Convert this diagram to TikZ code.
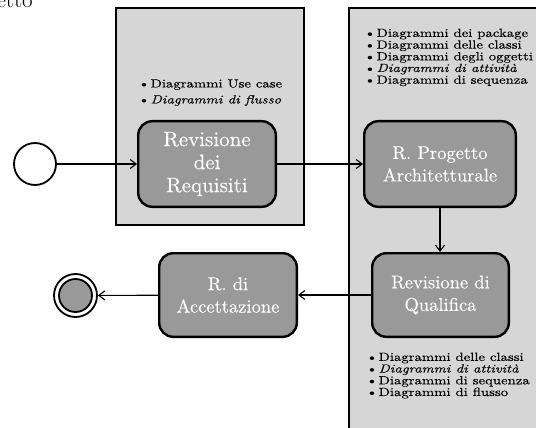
\documentclass[tikz,border=0pt]{standalone}
\usepackage{fontspec}
\newfontfamily\bulfont{lmroman10-regular.otf}[FakeStretch=1.25, FakeBold=0.15, ItalicFont=lmroman10-italic.otf]
\newfontfamily\actfont{lmroman10-regular.otf}[FakeBold=0.08]
\usetikzlibrary{arrows.meta}
\definecolor{panelgray}{RGB}{214,214,214}
\definecolor{nodegray}{RGB}{153,153,153}
\newcommand{\itm}{\textbullet\kern1pt}
\begin{document}
\begin{tikzpicture}[x=1pt,y=-1pt,
  panel/.style={draw=black, line width=2pt, fill=panelgray, inner sep=0pt},
  act/.style={draw=black, line width=2.4pt, rounded corners=14pt, fill=nodegray, text=white, align=center, inner sep=0pt, font=\actfont\fontsize{18.5}{22.5}\selectfont},
  bul/.style={anchor=north west, inner sep=0pt, align=left, text=black},
  flow/.style={line width=1.1pt, -{Straight Barb[length=6pt,width=9pt]}},
  startnode/.style={circle, draw=black, line width=1.8pt, fill=white, inner sep=0pt}
]
\useasboundingbox (0,0) rectangle (536,428);
\clip (0,0) rectangle (536,428);
\fill[white] (0,0) rectangle (536,428);
% clipped title fragment
\node[anchor=base east, inner sep=0pt, font=\fontsize{23}{23}\selectfont] (etto) at (33,7.5) {etto};
% swimlane panels
\node[panel, minimum width=188pt, minimum height=217pt] (pl) at (210,116.5) {};
\node[panel, minimum width=220pt, minimum height=460pt] (pr) at (459,238) {};
% activities
\node[act, minimum width=137.6pt, minimum height=85.6pt, font=\actfont\fontsize{21}{23}\selectfont] (req) at (207,164) {Revisione\\dei\\Requisiti};
\node[act, minimum width=151.6pt, minimum height=85.6pt] (proj) at (440,164) {R. Progetto\\Architetturale};
\node[act, minimum width=136.6pt, minimum height=83.6pt] (qual) at (440.5,295) {Revisione di\\Qualifica};
\node[act, minimum width=137.6pt, minimum height=83.6pt] (acc) at (228,295) {R. di\\Accettazione};
% start and final
\node[startnode, minimum size=42pt] (start) at (35,164) {};
\node[startnode, minimum size=43pt] (fin) at (75.5,295.5) {};
\node[startnode, fill=nodegray, minimum size=33pt] (fincore) at (fin) {};
% lists
\node[bul, font=\bulfont\fontsize{11.8}{16}\selectfont] (listreq) at (138,79.2)
  {\itm Diagrammi Use case\\ \itm\textit{Diagrammi di flusso}};
\node[bul, font=\bulfont\fontsize{11.8}{11.7}\selectfont] (listproj) at (364,28.5)
  {\itm Diagrammi dei package\\ \itm Diagrammi delle classi\\ \itm Diagrammi degli oggetti\\ \itm\textit{Diagrammi di attività}\\ \itm Diagrammi di sequenza};
\node[bul, font=\bulfont\fontsize{11.8}{11.7}\selectfont] (listqual) at (366,352.5)
  {\itm Diagrammi delle classi\\ \itm\textit{Diagrammi di attività}\\ \itm Diagrammi di sequenza\\ \itm Diagrammi di flusso};
% connectors
\draw[flow] (start) -- (req);
\draw[flow] (req) -- (proj);
\draw[flow] (proj.south) -- (proj.south |- qual.north);
\draw[flow] (qual) -- (acc);
\draw[flow] (acc) -- (fin);
\end{tikzpicture}
\end{document}
